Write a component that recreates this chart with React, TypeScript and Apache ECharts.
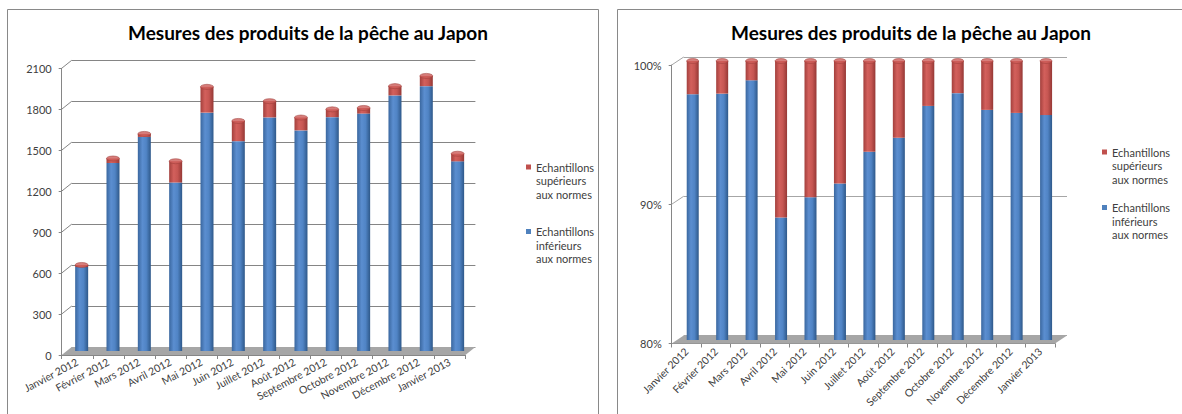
import React, { useEffect, useRef } from 'react';
import * as echarts from 'echarts';

const categories = [
  'Janvier 2012', 'Février 2012', 'Mars 2012', 'Avril 2012', 'Mai 2012', 'Juin 2012',
  'Juillet 2012', 'Août 2012', 'Septembre 2012', 'Octobre 2012', 'Novembre 2012',
  'Décembre 2012', 'Janvier 2013',
];
// Échantillons inférieurs aux normes (blue)
const inferieurs = [615, 1377, 1568, 1234, 1746, 1537, 1711, 1616, 1713, 1739, 1872, 1940, 1389];
// Échantillons supérieurs aux normes (red)
const superieurs = [15, 33, 22, 156, 189, 148, 119, 94, 57, 41, 68, 75, 56];

const countAxis = { min: 0, max: 2100, interval: 300 };
const pctAxis = { min: 80, max: 100, interval: 10 };

const TITLE = 'Mesures des produits de la pêche au Japon';
const SUP = 'Echantillons supérieurs aux normes';
const INF = 'Echantillons inférieurs aux normes';

const totals = categories.map((_, i) => inferieurs[i] + superieurs[i]);
const pctInf = totals.map((t, i) => (inferieurs[i] / t) * 100);
const pctSup = pctInf.map((p) => 100 - p);
const pctTot = pctInf.map((p, i) => p + pctSup[i]);

const FONT = 'Lato, "Open Sans", sans-serif';
const TXT = '#404040';
const GRIDC = '#868686';

// layout (pixels)
const LF = { left: 61.7, top: 68.3, width: 403.7, height: 286.7 };
const LB = { left: 66, top: 64.3, width: 407.3, height: 286.7 };
const LK = { left: 71.7, top: 60.3, width: 403.7, height: 286.7 };
const RF = { left: 671.7, top: 65, width: 383.3, height: 278.5 };
const RB = { left: 678, top: 61, width: 382.8, height: 279 };
const RK = { left: 683.7, top: 57, width: 383.3, height: 278.5 };

const grad = (stops: [number, string][]) =>
  new echarts.graphic.LinearGradient(0, 0, 1, 0, stops.map(([offset, color]) => ({ offset, color })));
const blueGrad = () => grad([[0, '#3A679F'], [0.35, '#5B8ED0'], [0.65, '#5084C5'], [1, '#2E5889']]);
const redGrad = () => grad([[0, '#A3403D'], [0.35, '#D3605C'], [0.65, '#C65652'], [1, '#953835']]);

const legendFormatter = (n: string) => n.replace(/^(\S+) (\S+) /, '$1\n$2\n');

function frontX(gridIndex: number, rotate: number) {
  return {
    type: 'category', gridIndex, data: categories, boundaryGap: true,
    axisLine: { show: true, lineStyle: { color: GRIDC } },
    axisTick: { show: true, length: 4, lineStyle: { color: GRIDC } },
    axisLabel: { interval: 0, rotate, fontSize: 10.5, color: TXT, fontFamily: FONT, margin: 6 },
    splitLine: { show: false },
  };
}
function hiddenX(gridIndex: number) {
  return { type: 'category', gridIndex, data: categories, show: false };
}
function frontY(gridIndex: number, ax: any, pct: boolean) {
  return {
    type: 'value', gridIndex, min: ax.min, max: ax.max, interval: ax.interval,
    axisLine: { show: true, lineStyle: { color: GRIDC } },
    axisTick: { show: true, length: 3, lineStyle: { color: GRIDC } },
    axisLabel: {
      fontSize: 11, color: TXT, fontFamily: FONT, margin: 10,
      formatter: pct ? (v: number) => v + '%' : (v: number) => String(v),
    },
    splitLine: { show: false },
  };
}
function hiddenY(gridIndex: number, ax: any) {
  return { type: 'value', gridIndex, min: ax.min, max: ax.max, interval: ax.interval, show: false };
}
function backY(gridIndex: number, ax: any, color: string) {
  return {
    type: 'value', gridIndex, min: ax.min, max: ax.max, interval: ax.interval,
    axisLine: { show: false }, axisTick: { show: false }, axisLabel: { show: false },
    splitLine: { show: true, lineStyle: { color, width: 1 } },
  };
}

function legend(left: number, top: number, gap: number) {
  return {
    orient: 'vertical', left, top, itemWidth: 5, itemHeight: 40.5, itemGap: gap,
    icon: 'path://M0,0L5,0M0,4L5,4L5,9L0,9ZM0,40.5L5,40.5',
    selectedMode: false,
    itemStyle: { borderWidth: 0 },
    data: [
      { name: SUP, itemStyle: { color: '#C0504D' } },
      { name: INF, itemStyle: { color: '#4F81BD' } },
    ],
    formatter: legendFormatter,
    textStyle: { fontSize: 11, lineHeight: 13.5, color: TXT, fontFamily: FONT },
  };
}

export default function App() {
  const ref = useRef<HTMLDivElement>(null);
  useEffect(() => {
    if (!ref.current) return;
    const chart = echarts.init(ref.current, null, { renderer: 'svg' });
    const grids = [LF, LB, LK, RF, RB, RK].map((g) => ({ ...g, outerBoundsMode: 'none', containLabel: false }));
    const titleStyle = { fontFamily: FONT, fontSize: 19, fontWeight: 'bold', color: '#000' };
    chart.setOption({
      animation: false,
      backgroundColor: '#ffffff',
      title: [
        { text: TITLE, left: 303, top: 18, textAlign: 'center', textStyle: titleStyle },
        { text: TITLE, left: 906, top: 18, textAlign: 'center', textStyle: titleStyle },
      ],
      legend: [legend(521, 155.5, 24), legend(1097, 140.5, 15)],
      grid: grids,
      xAxis: [frontX(0, 28), hiddenX(1), hiddenX(2), frontX(3, 45), hiddenX(4), hiddenX(5)],
      yAxis: [
        frontY(0, countAxis, false), hiddenY(1, countAxis), backY(2, countAxis, '#858585'),
        frontY(3, pctAxis, true), hiddenY(4, pctAxis), backY(5, pctAxis, '#A6A6A6'),
      ],
      series: [
        { name: INF, type: 'bar', xAxisIndex: 1, yAxisIndex: 1, stack: 'L', data: inferieurs, barWidth: 13, itemStyle: { color: blueGrad() } },
        { name: SUP, type: 'bar', xAxisIndex: 1, yAxisIndex: 1, stack: 'L', data: superieurs, barWidth: 13, itemStyle: { color: redGrad() } },
        { name: SUP, type: 'scatter', xAxisIndex: 1, yAxisIndex: 1, data: totals, symbol: 'circle', symbolSize: [13, 5], itemStyle: { color: '#CD5D59', borderColor: '#9E3D3A', borderWidth: 0.6 }, z: 3 },
        { name: INF, type: 'bar', xAxisIndex: 4, yAxisIndex: 4, stack: 'R', data: pctInf, barWidth: 12, itemStyle: { color: blueGrad() } },
        { name: SUP, type: 'bar', xAxisIndex: 4, yAxisIndex: 4, stack: 'R', data: pctSup, barWidth: 12, itemStyle: { color: redGrad() } },
        { name: SUP, type: 'scatter', xAxisIndex: 4, yAxisIndex: 4, data: pctTot, symbol: 'circle', symbolSize: [12, 5], itemStyle: { color: '#CD5D59', borderColor: '#9E3D3A', borderWidth: 0.6 }, z: 3 },
      ],
    });

    // 3D decorations: floors, wall diagonals, panel borders
    const graphic: any[] = [];
    const floor = (F: any, K: any, fill: string) => ({
      type: 'polygon', z: 1, silent: true,
      shape: { points: [
        [F.left, F.top + F.height], [F.left + F.width, F.top + F.height],
        [K.left + F.width, K.top + K.height], [K.left, K.top + K.height],
      ] },
      style: { fill },
    });
    graphic.push(floor(LF, LK, '#A6A6A6'));
    graphic.push(floor(RF, RK, '#A6A6A6'));
    const diag = (F: any, K: any, fi: number, ki: number, ax: any, color: string) => {
      for (let v = ax.min + ax.interval; v <= ax.max; v += ax.interval) {
        const yf = chart.convertToPixel({ yAxisIndex: fi }, v) as number;
        const yk = chart.convertToPixel({ yAxisIndex: ki }, v) as number;
        graphic.push({ type: 'line', z: 1, silent: true, shape: { x1: F.left, y1: yf, x2: K.left, y2: yk }, style: { stroke: color, lineWidth: 1 } });
      }
    };
    diag(LF, LK, 0, 2, countAxis, '#858585');
    diag(RF, RK, 3, 5, pctAxis, '#A6A6A6');
    graphic.push({ type: 'rect', z: 0, silent: true, shape: { x: 7.5, y: 9.5, width: 591, height: 430 }, style: { fill: 'none', stroke: '#898989', lineWidth: 1 } });
    graphic.push({ type: 'rect', z: 0, silent: true, shape: { x: 617.5, y: 9.5, width: 620, height: 430 }, style: { fill: 'none', stroke: '#898989', lineWidth: 1 } });
    chart.setOption({ graphic });

    return () => chart.dispose();
  }, []);
  return (
    <div
      ref={ref}
      style={{ position: 'fixed', left: 0, top: 0, width: 1182, height: 414, background: '#fff' }}
    />
  );
}
